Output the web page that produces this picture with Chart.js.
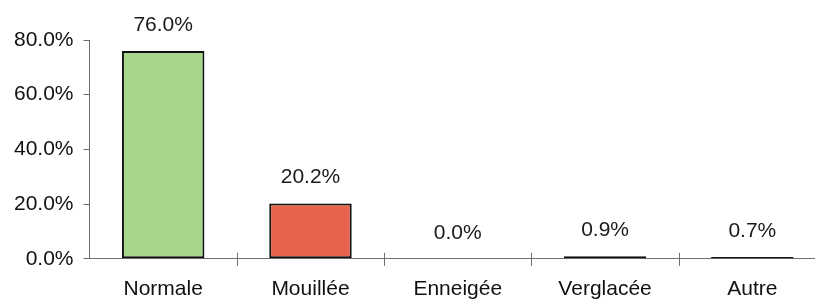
<!DOCTYPE html>
<html>
<head>
<meta charset="utf-8">
<script src="https://cdn.jsdelivr.net/npm/chart.js@4"></script>
<style>
  html, body { margin: 0; padding: 0; background: #fff; overflow: hidden; }
  #wrap { width: 826px; height: 300px; position: relative; }
</style>
</head>
<body>
<div id="wrap"><canvas id="etatChaussee"></canvas></div>
<script>
// données
const categories = ["Normale", "Mouillée", "Enneigée", "Verglacée", "Autre"];
const values = [76.0, 20.2, 0.0, 0.9, 0.7];
const barColors = ["#a7d68d", "#e8624c", "#9bbbd9", "#9bbbd9", "#9bbbd9"];
const yTicks = [0, 20, 40, 60, 80];

const FONT = "'Liberation Sans', Arial, sans-serif";

// étiquettes de valeur au-dessus des barres
const valueLabels = {
  id: "valueLabels",
  afterDatasetsDraw(chart) {
    const ctx = chart.ctx;
    const meta = chart.getDatasetMeta(0);
    ctx.save();
    ctx.font = "21px " + FONT;
    ctx.fillStyle = "#1a1a1a";
    ctx.textAlign = "center";
    ctx.textBaseline = "middle";
    meta.data.forEach((bar, i) => {
      ctx.fillText(values[i].toFixed(1) + "%", bar.x, bar.y - 26);
    });
    ctx.restore();
  },
};

// graduations croisées sur l'axe des x
const crossTicks = {
  id: "crossTicks",
  afterDraw(chart) {
    const x = chart.scales.x;
    const ctx = chart.ctx;
    ctx.save();
    ctx.strokeStyle = "#6e6e6e";
    ctx.lineWidth = 1;
    for (let i = 1; i < categories.length; i++) {
      const px = Math.round(x.getPixelForValue(i - 0.5)) + 0.5;
      ctx.beginPath();
      ctx.moveTo(px, x.top - 6);
      ctx.lineTo(px, x.top + 7);
      ctx.stroke();
    }
    ctx.restore();
  },
};

new Chart(document.querySelector("#etatChaussee"), {
  type: "bar",
  data: {
    labels: categories,
    datasets: [
      {
        data: values,
        backgroundColor: barColors,
        borderColor: "#111",
        borderWidth: 2,
        borderSkipped: false,
        categoryPercentage: 1,
        barPercentage: 0.56,
      },
    ],
  },
  options: {
    responsive: true,
    maintainAspectRatio: false,
    animation: false,
    layout: { padding: { top: 40, left: 4, right: 0, bottom: -12 } },
    plugins: {
      legend: { display: false },
      tooltip: { enabled: false },
    },
    scales: {
      x: {
        grid: { display: false },
        border: { color: "#6e6e6e", width: 1 },
        ticks: {
          color: "#111",
          font: { family: FONT, size: 21 },
          padding: 10,
        },
      },
      y: {
        min: 0,
        max: 80,
        afterBuildTicks: (axis) => {
          axis.ticks = yTicks.map((v) => ({ value: v }));
        },
        grid: {
          drawOnChartArea: false,
          color: "#6e6e6e",
          tickLength: 6,
        },
        border: { color: "#6e6e6e", width: 1 },
        ticks: {
          color: "#111",
          font: { family: FONT, size: 21 },
          padding: 10,
          callback: (v) => v.toFixed(1) + "%",
        },
      },
    },
  },
  plugins: [valueLabels, crossTicks],
});
</script>
</body>
</html>
